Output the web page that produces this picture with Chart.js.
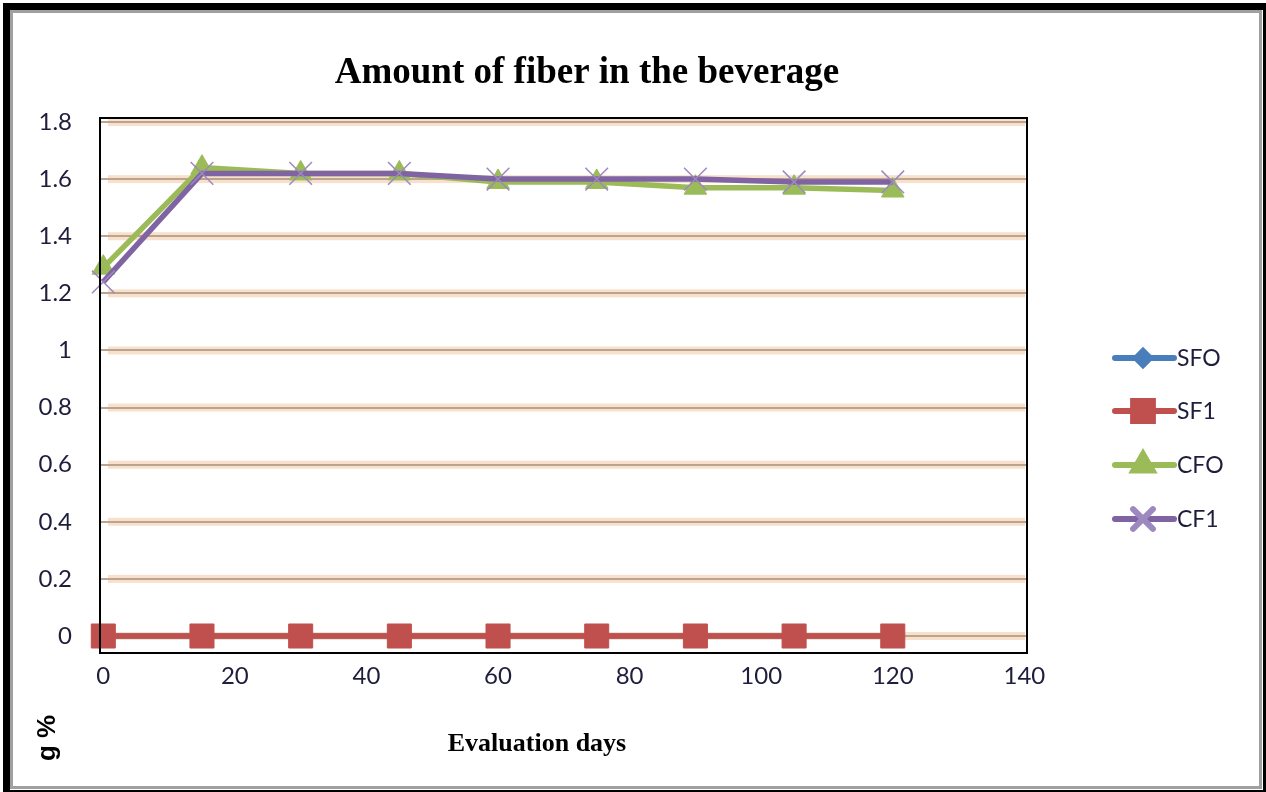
<!DOCTYPE html>
<html>
<head>
<meta charset="utf-8">
<script src="https://cdn.jsdelivr.net/npm/chart.js@4.4.1/dist/chart.umd.min.js"></script>
<style>
  html, body { margin: 0; padding: 0; background: #ffffff; }
  canvas { display: block; }
</style>
</head>
<body>
<canvas id="fiberChart" width="1266" height="792"></canvas>
<script>
// Evaluation days and fiber content (g %) for each beverage sample
const days = [0, 15, 30, 45, 60, 75, 90, 105, 120];
const sfoValues = [0, 0, 0, 0, 0, 0, 0, 0, 0];
const sf1Values = [0, 0, 0, 0, 0, 0, 0, 0, 0];
const cfoValues = [1.29, 1.64, 1.62, 1.62, 1.59, 1.59, 1.57, 1.57, 1.56];
const cf1Values = [1.24, 1.62, 1.62, 1.62, 1.60, 1.60, 1.60, 1.59, 1.59];
const seriesNames = ['SFO', 'SF1', 'CFO', 'CF1'];
const xTickValues = [0, 20, 40, 60, 80, 100, 120, 140];
const yTickValues = [0, 0.2, 0.4, 0.6, 0.8, 1, 1.2, 1.4, 1.6, 1.8];

const chartTitle = 'Amount of fiber in the beverage';
const xAxisTitle = 'Evaluation days';
const yAxisTitle = 'g %';

const toPoints = vals => days.map((d, i) => ({ x: d, y: vals[i] }));

const tickFont = { family: 'Lato, "Open Sans", sans-serif', size: 24 };
const tickColor = '#1e1e3c';

// Outer double frame around the figure
const framePlugin = {
  id: 'frame',
  beforeDraw(chart) {
    const ctx = chart.ctx;
    ctx.save();
    ctx.fillStyle = '#ffffff';
    ctx.fillRect(0, 0, chart.width, chart.height);
    ctx.fillStyle = '#000000';
    ctx.fillRect(3, 3, 1263, 7);      // top
    ctx.fillRect(3, 3, 7, 789);       // left
    ctx.fillRect(1263, 3, 3, 789);    // right
    ctx.fillRect(3, 790, 1263, 2);    // bottom
    ctx.fillStyle = '#a0a0a0';
    ctx.fillRect(10, 10, 1252, 3);
    ctx.fillRect(10, 10, 3, 779);
    ctx.fillRect(1259, 10, 3, 779);
    ctx.fillRect(10, 786, 1252, 3);
    // soft peach band behind each horizontal gridline
    const y = chart.scales.y;
    ctx.fillStyle = 'rgba(247, 214, 186, 0.75)';
    yTickValues.forEach(v => {
      const py = y.getPixelForValue(v);
      ctx.fillRect(108, py - 4, 917, 8);
    });
    ctx.restore();
  }
};

// Black border around the plot area, drawn over the series
const plotBorderPlugin = {
  id: 'plotBorder',
  afterDatasetsDraw(chart) {
    const a = chart.chartArea;
    const ctx = chart.ctx;
    ctx.save();
    ctx.strokeStyle = '#000000';
    ctx.lineWidth = 2;
    ctx.strokeRect(a.left, a.top, a.right - a.left, a.bottom - a.top);
    ctx.restore();
  }
};

// Titles and the line-with-marker legend
const textPlugin = {
  id: 'texts',
  afterDraw(chart) {
    const ctx = chart.ctx;
    ctx.save();
    ctx.fillStyle = '#000000';
    ctx.textAlign = 'center';
    ctx.textBaseline = 'middle';
    ctx.font = 'bold 37px "Liberation Serif", "Times New Roman", serif';
    ctx.fillText(chartTitle, 587, 73);
    ctx.font = 'bold 26px "Liberation Serif", "Times New Roman", serif';
    ctx.fillText(xAxisTitle, 537, 744);

    ctx.save();
    ctx.translate(48, 738);
    ctx.rotate(-Math.PI / 2);
    ctx.font = 'bold 26px "Liberation Sans", Arial, sans-serif';
    ctx.fillText(yAxisTitle, 0, 0);
    ctx.restore();

    // legend
    const rowY = [358, 411, 465, 519];
    chart.data.datasets.forEach((ds, i) => {
      const y = rowY[i];
      ctx.strokeStyle = ds.borderColor;
      ctx.lineWidth = 6;
      ctx.lineCap = 'round';
      ctx.beginPath();
      ctx.moveTo(1115, y);
      ctx.lineTo(1174, y);
      ctx.stroke();
      ctx.fillStyle = ds.pointBackgroundColor;
      ctx.strokeStyle = ds.pointBorderColor;
      Chart.helpers.drawPoint(ctx, {
        pointStyle: ds.pointStyle,
        radius: ds.legendRadius,
        rotation: 0,
        borderWidth: ds.pointBorderWidth
      }, 1143, y);
      ctx.fillStyle = tickColor;
      ctx.font = '23px ' + tickFont.family;
      ctx.textAlign = 'left';
      ctx.textBaseline = 'middle';
      ctx.fillText(ds.label, 1177, y + 1);
    });
    ctx.restore();
  }
};

const datasets = [
  {
    label: seriesNames[0], data: toPoints(sfoValues),
    borderColor: '#4a7ebb', pointBackgroundColor: '#4a7ebb', pointBorderColor: '#4a7ebb',
    pointStyle: 'rectRot', pointRadius: 10, legendRadius: 7, pointBorderWidth: 1, order: 3
  },
  {
    label: seriesNames[1], data: toPoints(sf1Values),
    borderColor: '#c0504d', pointBackgroundColor: '#c0504d', pointBorderColor: '#c0504d',
    pointStyle: 'rect', pointRadius: 17, legendRadius: 14, pointBorderWidth: 1, order: 2
  },
  {
    label: seriesNames[2], data: toPoints(cfoValues),
    borderColor: '#9bbb59', pointBackgroundColor: '#9bbb59', pointBorderColor: '#9bbb59',
    pointStyle: 'triangle', pointRadius: 13, legendRadius: 11, pointBorderWidth: 1, order: 1
  },
  {
    label: seriesNames[3], data: toPoints(cf1Values),
    borderColor: '#7f63a2', pointBackgroundColor: '#9d88c0', pointBorderColor: '#9d88c0',
    pointStyle: 'crossRot', pointRadius: 16, legendRadius: 14, pointBorderWidth: 1.5, order: 0
  }
];

new Chart(document.getElementById('fiberChart'), {
  type: 'scatter',
  data: {
    datasets: datasets.map(ds => Object.assign({
      showLine: true,
      borderWidth: 5.5,
      tension: 0,
      clip: false,
      pointHoverRadius: ds.pointRadius
    }, ds))
  },
  options: {
    responsive: false,
    animation: false,
    events: [],
    layout: { padding: { left: 0, top: 118, right: 239, bottom: 0 } },
    plugins: {
      legend: { display: false },
      title: { display: false },
      tooltip: { enabled: false }
    },
    scales: {
      x: {
        type: 'linear',
        min: -0.5,
        max: 140.4,
        afterFit(scale) { scale.height = 139; },
        afterBuildTicks(scale) { scale.ticks = xTickValues.map(v => ({ value: v })); },
        grid: { display: false, drawTicks: false },
        border: { display: false },
        ticks: {
          padding: 9,
          font: tickFont,
          color: tickColor,
          maxRotation: 0,
          callback: v => String(v)
        }
      },
      y: {
        type: 'linear',
        min: -0.0595,
        max: 1.814,
        afterFit(scale) { scale.width = 100; },
        afterBuildTicks(scale) { scale.ticks = yTickValues.map(v => ({ value: v })); },
        grid: { color: '#b9a391', lineWidth: 2, drawTicks: false },
        border: { display: false },
        ticks: {
          padding: 28,
          font: tickFont,
          color: tickColor,
          callback: v => String(Math.round(v * 10) / 10)
        }
      }
    }
  },
  plugins: [framePlugin, plotBorderPlugin, textPlugin]
});
</script>
</body>
</html>
